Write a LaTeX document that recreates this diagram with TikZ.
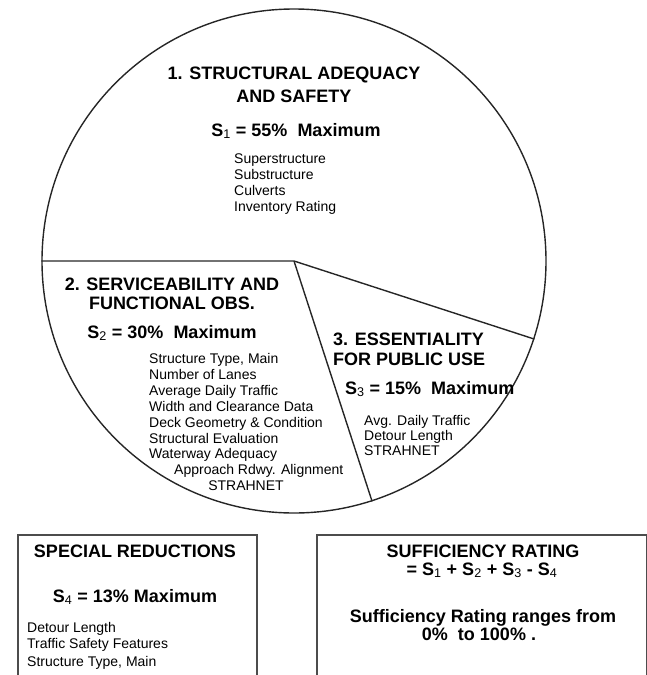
\documentclass[tikz,border=0pt]{standalone}
\usepackage{fontspec}
\setmainfont{Liberation Sans}
\newcommand{\mysub}[1]{\textsubscript{\mdseries #1}}
\tikzset{
  ttl/.style={font=\fontsize{18}{20}\selectfont\bfseries, inner sep=0pt, anchor=base},
  ttlw/.style={font=\fontsize{18}{20}\selectfont\bfseries, inner sep=0pt, anchor=base west},
  itm/.style={font=\fontsize{14}{15}\selectfont, inner sep=0pt, anchor=base west},
  itmc/.style={font=\fontsize{14}{15}\selectfont, inner sep=0pt, anchor=base},
  edge/.style={line width=1.4pt, draw=black!85},
  box/.style={draw=black!70, line width=1.6pt, inner sep=0pt, anchor=north west},
}
\begin{document}
\begin{tikzpicture}[x=1pt,y=-1pt]
\useasboundingbox (0,0) rectangle (647,675);
\clip (0,0) rectangle (647,675);
% pie
\node[circle, draw=black!85, line width=1.4pt, minimum size=504pt, inner sep=0pt] (pie) at (294,261) {};
\draw[edge] (pie.180) -- (pie.center) -- (pie.-18);
\draw[edge] (pie.center) -- (pie.-72);
% slice 1
\node[ttl] (t1a) at (294,79) {1. STRUCTURAL ADEQUACY};
\node[ttl] (t1b) at (294,102) {AND SAFETY};
\node[ttl] (s1) at (296,136) {S\mysub{1} = 55\%\ \ Maximum};
\node[itm] (i11) at (234,163) {Superstructure};
\node[itm] (i12) at (234,179) {Substructure};
\node[itm] (i13) at (234,195) {Culverts};
\node[itm] (i14) at (234,211) {Inventory Rating};
% slice 2
\node[ttl] (t2a) at (172,290) {2. SERVICEABILITY AND};
\node[ttl] (t2b) at (172,309) {FUNCTIONAL OBS.};
\node[ttl] (s2) at (172,338) {S\mysub{2} = 30\%\ \ Maximum};
\node[itm] (i21) at (149,363) {Structure Type, Main};
\node[itm] (i22) at (149,379) {Number of Lanes};
\node[itm] (i23) at (149,395) {Average Daily Traffic};
\node[itm] (i24) at (149,411) {Width and Clearance Data};
\node[itm] (i25) at (149,427) {Deck Geometry \& Condition};
\node[itm] (i26) at (149,443) {Structural Evaluation};
\node[itm] (i27) at (149,458) {Waterway Adequacy};
\node[itm] (i28) at (174,474) {Approach Rdwy. Alignment};
\node[itmc] (i29) at (246,490) {STRAHNET};
% slice 3
\node[ttlw] (t3a) at (333,345) {3. ESSENTIALITY};
\node[ttlw] (t3b) at (333,365) {FOR PUBLIC USE};
\node[ttlw] (s3) at (345,394) {S\mysub{3} = 15\%\ \ Maximum};
\node[itm] (i31) at (364,425) {Avg. Daily Traffic};
\node[itm] (i32) at (364,440) {Detour Length};
\node[itm] (i33) at (364,455) {STRAHNET};
% special reductions box
\node[box, minimum width=239pt, minimum height=170pt] (sr) at (17,534) {};
\node[ttl] (srt) at (135,557) {SPECIAL REDUCTIONS};
\node[ttl] (s4) at (135,602) {S\mysub{4} = 13\%\ Maximum};
\node[itm] (i41) at (27,632) {Detour Length};
\node[itm] (i42) at (27,648) {Traffic Safety Features};
\node[itm] (i43) at (27,666) {Structure Type, Main};
% sufficiency rating box
\node[box, minimum width=330pt, minimum height=170pt] (sf) at (316,534) {};
\node[ttl] (sft) at (483,557) {SUFFICIENCY RATING};
\node[ttl] (sfe) at (482,575) {= S\mysub{1} + S\mysub{2} + S\mysub{3} - S\mysub{4}};
\node[ttl] (sfr) at (483,622) {Sufficiency Rating ranges from};
\node[ttl] (sfp) at (479,640) {0\%\ \ to 100\% .};
\end{tikzpicture}
\end{document}
